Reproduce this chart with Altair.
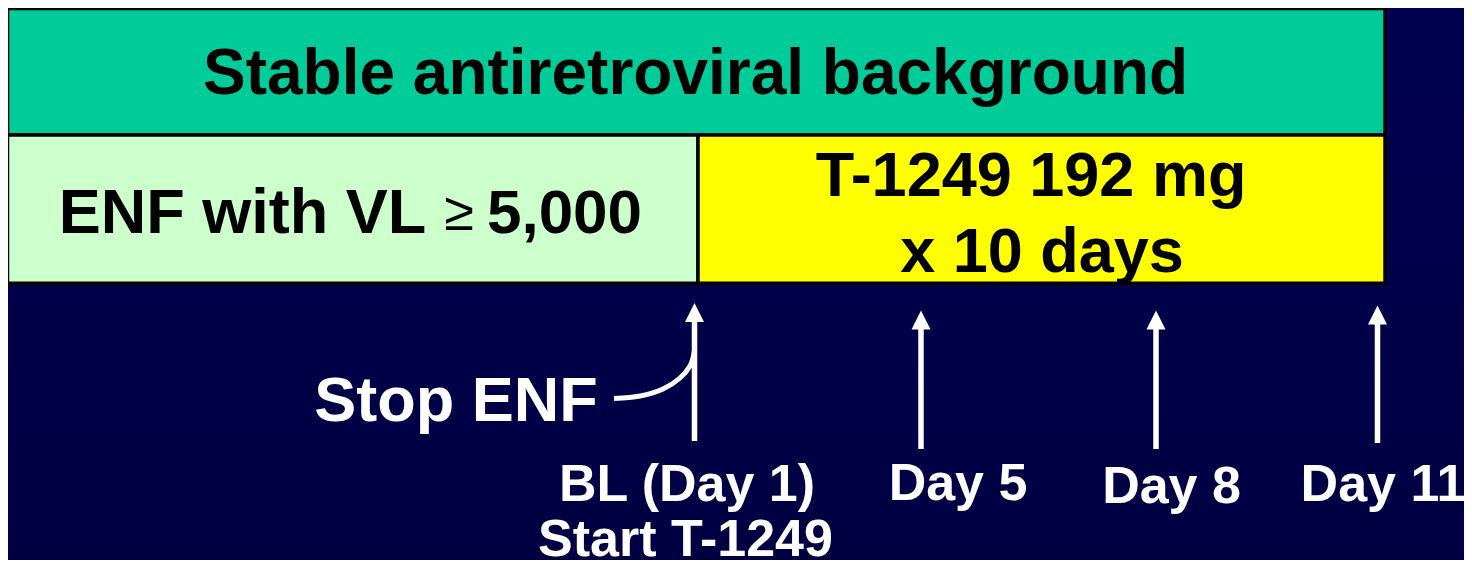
import altair as alt
import pandas as pd

# The chart starts 8px into the 1472x568 page; coordinates below are in
# slide pixels, mapped 1:1 through linear scales.
X0, X1 = 8, 1464
Y0, Y1 = 8, 560
W, H = X1 - X0, Y1 - Y0
FONT = "Liberation Sans"

# ---- study phases (boxes) ----
phase_names = ["Stable antiretroviral background", "ENF with VL ≥ 5,000", "T-1249 192 mg x 10 days"]
phase_x0 = [7.5, 7.5, 698]
phase_x1 = [1385, 698, 1385]
phase_y0 = [8.5, 135, 135]
phase_y1 = [135, 283.3, 283.3]
phase_fill = ["#00CC99", "#CCFFCC", "#FFFF00"]

# ---- text inside the boxes ----
box_text = ["Stable antiretroviral background", "ENF with VL", "5,000", "T-1249 192 mg", "x 10 days"]
box_text_x = [695.5, 242.5, 564.5, 1031, 1042]
box_text_y = [94, 233, 233, 196, 272]
box_text_size = [64, 63, 62, 63, 63]

# the small "greater or equal" sign
ge_text = ["≥"]
ge_x = [459]
ge_y = [230]
ge_size = [54]

# ---- sampling timepoints (arrows) ----
timepoints = ["BL (Day 1)", "Day 5", "Day 8", "Day 11"]
tp_x = [694.5, 921, 1156, 1377.5]
tp_tip = [303, 310.5, 310.5, 305.5]
tp_bottom = [441, 449, 449, 443]
tp_label_x = [687, 958, 1171.5, 1383]
tp_label_y = [501, 500, 503, 501]

# second line under baseline label, and the "Stop ENF" note
extra_text = ["Start T-1249", "Stop ENF"]
extra_x = [685.5, 456]
extra_y = [556, 421]
extra_size = [52, 63]

# curved connector from "Stop ENF" to the baseline arrow
curve_x = [614, 640, 663, 680, 690, 693, 694.5]
curve_y = [398.5, 396, 389, 378, 366, 358, 350]

HEAD = 19  # arrow head size (px)

xs = alt.Scale(domain=[X0, X1], nice=False, zero=False)
ys = alt.Scale(domain=[Y0, Y1], nice=False, zero=False, reverse=True)


def X(f):
    return alt.X(f, type="quantitative", scale=xs, axis=None)


def Y(f):
    return alt.Y(f, type="quantitative", scale=ys, axis=None)


boxes = pd.DataFrame({
    "name": phase_names, "x": phase_x0, "x2": phase_x1,
    "y": phase_y0, "y2": phase_y1, "fill": phase_fill,
})

btext = pd.DataFrame({"t": box_text, "x": box_text_x, "y": box_text_y, "fs": box_text_size})
getext = pd.DataFrame({"t": ge_text, "x": ge_x, "y": ge_y, "fs": ge_size})

arrows = pd.DataFrame({
    "label": timepoints, "x": tp_x, "tip": tp_tip, "bottom": tp_bottom,
    "lx": tp_label_x, "ly": tp_label_y,
})
arrows["head"] = arrows["tip"] + HEAD / 2
arrows["shaft_top"] = arrows["tip"] + HEAD - 2

wtext = pd.DataFrame({
    "t": timepoints + extra_text,
    "x": tp_label_x + extra_x,
    "y": tp_label_y + extra_y,
    "fs": [52, 52, 52, 52] + extra_size,
})

curve = pd.DataFrame({"x": curve_x, "y": curve_y, "o": list(range(len(curve_x)))})

bg = alt.Chart(pd.DataFrame({"a": [0]})).mark_rect(
    color=alt.LinearGradient(
        gradient="linear",
        stops=[alt.GradientStop(color="#000052", offset=0),
               alt.GradientStop(color="#000042", offset=1)],
        x1=0, x2=0, y1=0, y2=1,
    )
).encode(x=alt.value(0), x2=alt.value(W), y=alt.value(0), y2=alt.value(H))

box_layer = alt.Chart(boxes).mark_rect(stroke="black", strokeWidth=3.5).encode(
    x=X("x"), x2="x2", y=Y("y"), y2="y2",
    color=alt.Color("fill:N", scale=None),
)

box_text_layer = alt.Chart(btext).mark_text(
    font=FONT, fontWeight="bold", color="black", align="center", baseline="alphabetic"
).encode(x=X("x"), y=Y("y"), text="t:N", size=alt.Size("fs:Q", scale=None))

ge_layer = alt.Chart(getext).mark_text(
    font=FONT, fontWeight="normal", color="black", align="center", baseline="alphabetic"
).encode(x=X("x"), y=Y("y"), text="t:N", size=alt.Size("fs:Q", scale=None))

shafts = alt.Chart(arrows).mark_rule(color="white", strokeWidth=5.5, strokeCap="butt").encode(
    x=X("x"), y=Y("shaft_top"), y2="bottom"
)

heads = alt.Chart(arrows).mark_point(
    shape="M0,-1L1,1L-1,1Z", filled=True, color="white", opacity=1, strokeWidth=0,
    size=HEAD * HEAD,
).encode(x=X("x"), y=Y("head"))

connector = alt.Chart(curve).mark_line(
    color="white", strokeWidth=5, interpolate="catmull-rom", strokeCap="butt"
).encode(x=X("x"), y=Y("y"), order="o:Q")

white_text = alt.Chart(wtext).mark_text(
    font=FONT, fontWeight="bold", color="white", align="center", baseline="alphabetic"
).encode(x=X("x"), y=Y("y"), text="t:N", size=alt.Size("fs:Q", scale=None))

chart = alt.layer(
    bg, box_layer, box_text_layer, ge_layer, connector, shafts, heads, white_text
).properties(
    width=W, height=H, padding=0, autosize=alt.AutoSizeParams(type="none"),
    background="#00004a",
).configure_view(stroke=None)

chart.save("out.html", embed_options={"renderer": "svg", "actions": False})
